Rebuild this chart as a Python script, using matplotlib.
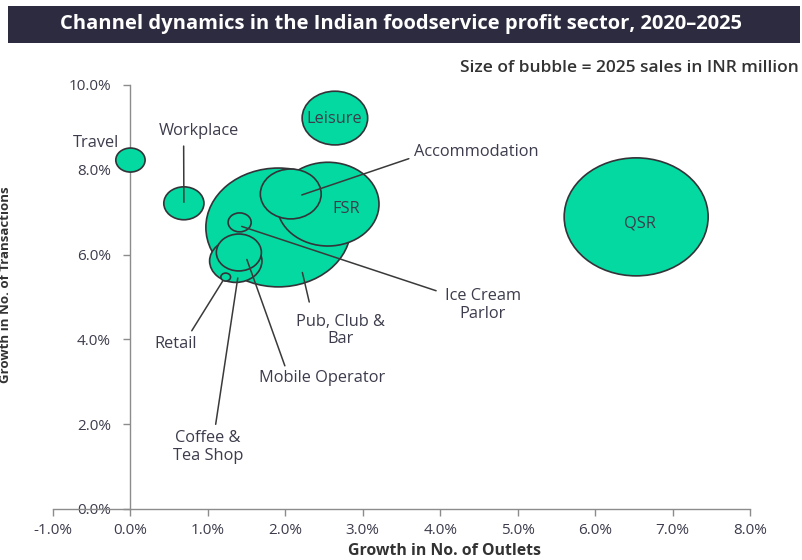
import numpy as np
import matplotlib
matplotlib.use("Agg")
import matplotlib.pyplot as plt
from matplotlib.path import Path
from matplotlib.transforms import Affine2D, offset_copy
from matplotlib.patches import Rectangle
from matplotlib.ticker import FuncFormatter, MultipleLocator

# Channel data
channels = ["QSR", "Pub, Club &\nBar", "FSR", "Leisure", "Accommodation",
            "Coffee &\nTea Shop", "Mobile Operator", "Workplace", "Travel",
            "Ice Cream\nParlor", "Retail"]
outlet_growth = [6.53, 1.91, 2.55, 2.64, 2.07, 1.36, 1.40, 0.69, 0.00, 1.41, 1.23]
transaction_growth = [6.89, 6.64, 7.19, 9.22, 7.43, 5.85, 6.05, 7.21, 8.23, 6.76, 5.47]
sales_2025 = [140000, 142000, 70500, 29000, 25000, 18500, 13700, 10900, 5800, 3600, 640]

DPI = 100
PX = 72 / DPI          # points per pixel
ASPECT = 1.22          # bubbles look stretched horizontally in the source
BUBBLE_K = 118 / np.sqrt(140000)   # px of height per sqrt(sales)

# label layout: text offset (px), line tip offset (px), relpos on text box, shrink (px)
label_layout = {
    "QSR": dict(text=(4, -7)),
    "FSR": dict(text=(18, -5)),
    "Leisure": dict(text=(-1, -1)),
    "Travel": dict(text=(-34, 17)),
    "Workplace": dict(text=(15, 72), tip=(0, 1), rel=(0.31, 0.0), shrink=4),
    "Accommodation": dict(text=(186, 42), tip=(11, -1), rel=(0.0, 0.2), shrink=3),
    "Ice Cream\nParlor": dict(text=(243, -83), tip=(2, -4), rel=(0.0, 0.85), shrink=6),
    "Pub, Club &\nBar": dict(text=(62, -103), tip=(24, -45), rel=(0.18, 1.0), shrink=9),
    "Retail": dict(text=(-50, -67), tip=(-3, -4), rel=(0.8, 1.0), shrink=3),
    "Mobile Operator": dict(text=(83, -126), tip=(8, -7), rel=(0.22, 1.0), shrink=2),
    "Coffee &\nTea Shop": dict(text=(-28, -186), tip=(2, -17), rel=(0.6, 1.0), shrink=3),
}

bubble_color = "#03d9a1"
edge_color = "#333338"
text_color = "#3c3c4c"
axis_color = "#8c8c8c"
LABEL_SIZE = 11.8

fig = plt.figure(figsize=(8.02, 5.60), dpi=DPI)
ax = fig.add_axes([53 / 802, 1 - 509 / 560, (750 - 53) / 802, (509 - 85) / 560])

# title band
fig.patches.append(Rectangle((8 / 802, 1 - 43 / 560), 792 / 802, 37 / 560,
                             transform=fig.transFigure, facecolor="#2c2b3f",
                             edgecolor="none", zorder=0))
fig.text(0.5, 1 - 24 / 560,
         "Channel dynamics in the Indian foodservice profit sector, 2020\u20132025",
         color="white", fontsize=14.5, fontweight="bold", family="Open Sans",
         ha="center", va="center")
fig.text(799 / 802, 1 - 68 / 560, "Size of bubble = 2025 sales in INR million",
         color="#333333", fontsize=12.5, fontweight="semibold", family="Open Sans",
         ha="right", va="center")

# ellipse-shaped bubble marker
circle = Path.unit_circle()
ellipse = Path(Affine2D().scale(ASPECT, 1).transform(circle.vertices), circle.codes)

heights_px = BUBBLE_K * np.sqrt(np.array(sales_2025, dtype=float))
sizes = (heights_px * ASPECT * PX) ** 2
order = np.argsort(-np.array(sales_2025))

ax.scatter(np.array(outlet_growth)[order], np.array(transaction_growth)[order],
           s=sizes[order], marker=ellipse, facecolor=bubble_color,
           edgecolor=edge_color, linewidths=1.2, zorder=3)

for name, x, y in zip(channels, outlet_growth, transaction_growth):
    lay = label_layout[name]
    tx, ty = lay["text"]
    if "tip" in lay:
        dx, dy = lay["tip"]
        tip_tr = offset_copy(ax.transData, fig=fig, x=dx * PX, y=dy * PX, units="points")
        ax.annotate(name, xy=(x, y), xycoords=tip_tr,
                    xytext=(tx * PX - dx * PX, ty * PX - dy * PX),
                    textcoords="offset points", ha="center", va="center",
                    fontsize=LABEL_SIZE, family="Open Sans", color=text_color,
                    linespacing=1.15, zorder=5,
                    arrowprops=dict(arrowstyle="-", color="#3a3a3a", lw=1.1,
                                    relpos=lay["rel"], shrinkA=lay["shrink"] * PX,
                                    shrinkB=0))
    else:
        ax.annotate(name, xy=(x, y), xytext=(tx * PX, ty * PX),
                    textcoords="offset points", ha="center", va="center",
                    fontsize=LABEL_SIZE, family="Open Sans", color=text_color, zorder=5)

# axes styling
ax.set_xlim(-1, 8)
ax.set_ylim(0, 10)
ax.xaxis.set_major_locator(MultipleLocator(1))
ax.yaxis.set_major_locator(MultipleLocator(2))
pct = FuncFormatter(lambda v, _: f"{v:.1f}%")
ax.xaxis.set_major_formatter(pct)
ax.yaxis.set_major_formatter(pct)

ax.spines["top"].set_visible(False)
ax.spines["right"].set_visible(False)
ax.spines["left"].set_position(("data", 0))
for side in ("left", "bottom"):
    ax.spines[side].set_color(axis_color)
    ax.spines[side].set_linewidth(1.0)
    ax.spines[side].set_zorder(2.7)

ax.tick_params(axis="x", direction="out", length=5, width=1, color=axis_color,
               labelsize=11, labelcolor=text_color, pad=5)
ax.tick_params(axis="y", direction="out", length=5, width=1, color=axis_color,
               labelsize=11, labelcolor=text_color, pad=9)
for lbl in ax.get_xticklabels() + ax.get_yticklabels():
    lbl.set_family("Open Sans")

fig.text(445 / 802, 1 - 551 / 560, "Growth in No. of Outlets", fontsize=11.4,
         fontweight="bold", family="Open Sans", color="#333333",
         ha="center", va="center")
fig.text(6 / 802, 1 - 285 / 560, "Growth in No. of Transactions", fontsize=9.5,
         fontweight="bold", family="Open Sans", color="#333333",
         rotation=90, ha="center", va="center")

fig.savefig("out.png", dpi=DPI)
